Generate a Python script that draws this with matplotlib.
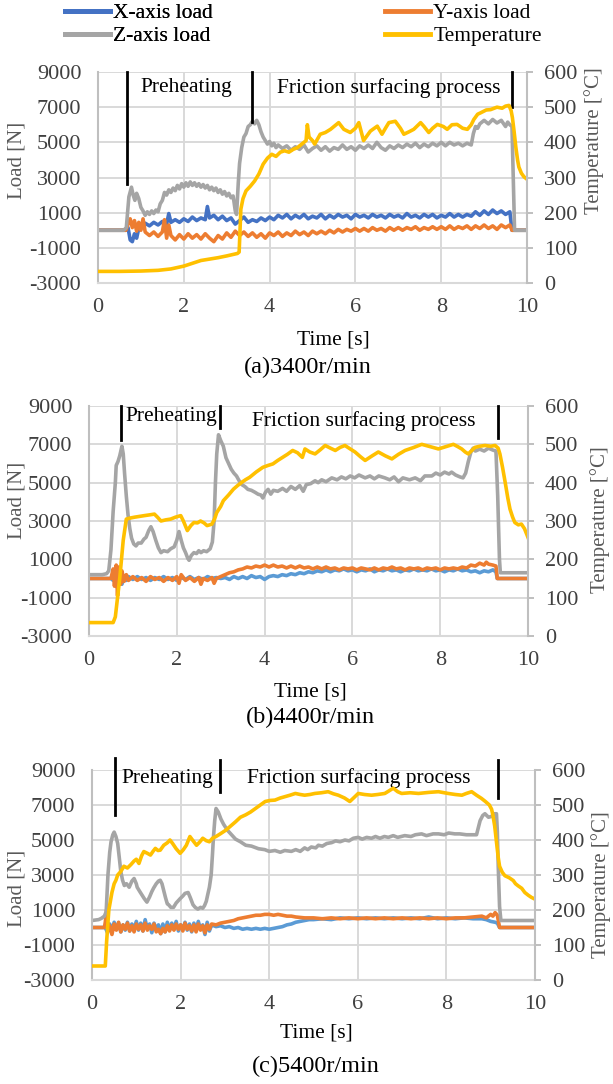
import matplotlib.pyplot as plt
from matplotlib.lines import Line2D

plt.rcParams['font.family'] = ['Liberation Serif', 'DejaVu Serif']
plt.rcParams['axes.unicode_minus'] = False

W, H = 613, 1084

# ---------------- (a) 3400 r/min ----------------
a_x = [(0, 0), (0.65, 0), (0.7, 150), (0.75, -550), (0.8, -650), (0.85, -200), (0.9, -450), (0.95, 100),
       (1.0, 350), (1.05, 150), (1.1, 400), (1.2, 250), (1.3, 450), (1.4, 300), (1.5, 500), (1.6, 350),
       (1.65, 950), (1.7, 450), (1.8, 600), (1.9, 450), (2.0, 650), (2.1, 500), (2.2, 750), (2.3, 550),
       (2.4, 700), (2.5, 600), (2.55, 1350), (2.6, 700), (2.7, 850), (2.8, 600), (2.9, 800), (3.0, 550),
       (3.1, 700), (3.2, 350), (3.3, 550), (3.4, 750), (3.5, 450), (3.6, 600), (3.7, 500), (3.8, 700),
       (3.9, 550), (4.0, 750), (4.1, 600), (4.2, 850), (4.3, 700), (4.4, 900), (4.5, 650), (4.6, 850),
       (4.7, 700), (4.8, 900), (4.9, 650), (5.0, 800), (5.1, 700), (5.2, 900), (5.3, 650), (5.4, 850),
       (5.5, 700), (5.6, 900), (5.7, 750), (5.8, 850), (5.9, 650), (6.0, 900), (6.1, 750), (6.2, 850),
       (6.3, 700), (6.4, 900), (6.5, 750), (6.6, 850), (6.7, 700), (6.8, 900), (6.9, 750), (7.0, 850),
       (7.1, 700), (7.2, 950), (7.3, 750), (7.4, 850), (7.5, 700), (7.6, 900), (7.7, 750), (7.8, 900),
       (7.9, 700), (8.0, 850), (8.1, 750), (8.2, 950), (8.3, 750), (8.4, 900), (8.5, 750), (8.6, 900),
       (8.7, 800), (8.8, 1050), (8.9, 850), (9.0, 1100), (9.1, 900), (9.2, 1150), (9.3, 950), (9.4, 1100),
       (9.5, 900), (9.6, 1050), (9.65, 0), (10, 0)]
a_y = [(0, 0), (0.65, 0), (0.7, 350), (0.75, 650), (0.8, 150), (0.85, 550), (0.9, -50), (0.95, 450),
       (1.0, 0), (1.05, 650), (1.1, -100), (1.2, -300), (1.3, -100), (1.4, -350), (1.5, -100), (1.55, 600),
       (1.6, -450), (1.65, 300), (1.7, -300), (1.8, -550), (1.9, -250), (2.0, -500), (2.1, -200),
       (2.2, -450), (2.3, -250), (2.4, -500), (2.5, -200), (2.6, -450), (2.7, -650), (2.8, -300),
       (2.9, -500), (3.0, -150), (3.1, -400), (3.2, -50), (3.3, -300), (3.4, -100), (3.5, -350),
       (3.6, -150), (3.7, -400), (3.8, -200), (3.9, -450), (4.0, -150), (4.1, -300), (4.2, -100),
       (4.3, -350), (4.4, -150), (4.5, -300), (4.6, -50), (4.7, -250), (4.8, -100), (4.9, -300),
       (5.0, -50), (5.1, -200), (5.2, -50), (5.3, -200), (5.4, 0), (5.5, -150), (5.6, 50), (5.7, -100),
       (5.8, 50), (5.9, -50), (6.0, 100), (6.1, -50), (6.2, 100), (6.3, -50), (6.4, 150), (6.5, 0),
       (6.6, 100), (6.7, -50), (6.8, 150), (6.9, 0), (7.0, 150), (7.1, 0), (7.2, 150), (7.3, 50),
       (7.4, 200), (7.5, 0), (7.6, 150), (7.7, 50), (7.8, 200), (7.9, 50), (8.0, 200), (8.1, 50),
       (8.2, 250), (8.3, 50), (8.4, 200), (8.5, 100), (8.6, 250), (8.7, 50), (8.8, 250), (8.9, 100),
       (9.0, 300), (9.1, 100), (9.2, 250), (9.3, 50), (9.4, 300), (9.5, 150), (9.6, 300), (9.65, 0), (10, 0)]
a_z = [(0, 0), (0.6, 0), (0.66, 150), (0.72, 1900), (0.78, 2450), (0.82, 2000), (0.86, 1700), (0.9, 2100),
       (0.95, 1800), (1.0, 1300), (1.05, 1100), (1.1, 850), (1.15, 1050), (1.2, 900), (1.25, 1100),
       (1.3, 950), (1.35, 1150), (1.4, 1050), (1.45, 1500), (1.5, 1700), (1.55, 2150), (1.6, 2000),
       (1.65, 2300), (1.7, 2150), (1.75, 2400), (1.8, 2250), (1.85, 2550), (1.9, 2350), (1.95, 2650),
       (2.0, 2450), (2.05, 2700), (2.1, 2500), (2.15, 2750), (2.2, 2550), (2.25, 2700), (2.3, 2500),
       (2.35, 2650), (2.4, 2450), (2.45, 2600), (2.5, 2400), (2.55, 2550), (2.6, 2300), (2.65, 2450),
       (2.7, 2250), (2.75, 2400), (2.8, 2150), (2.85, 2300), (2.9, 2050), (2.95, 2200), (3.0, 1950),
       (3.05, 2100), (3.1, 1850), (3.15, 1950), (3.2, 1100), (3.23, 900), (3.27, 2700), (3.3, 3800),
       (3.35, 4700), (3.4, 5300), (3.45, 5500), (3.5, 5900), (3.55, 6000), (3.6, 6200), (3.65, 6050),
       (3.7, 6250), (3.75, 6000), (3.8, 5600), (3.85, 5300), (3.9, 5100), (3.95, 4900), (4.0, 5050),
       (4.05, 4800), (4.1, 4950), (4.15, 4700), (4.2, 4850), (4.3, 4650), (4.4, 4800), (4.5, 4550),
       (4.6, 4750), (4.7, 4600), (4.8, 4850), (4.9, 4450), (5.0, 4650), (5.1, 4800), (5.2, 4550),
       (5.3, 4750), (5.4, 4500), (5.5, 4700), (5.6, 4600), (5.7, 4850), (5.8, 4600), (5.9, 4750),
       (6.0, 4550), (6.1, 4800), (6.2, 4650), (6.3, 4850), (6.4, 4650), (6.5, 5000), (6.6, 4700),
       (6.7, 4550), (6.8, 4800), (6.9, 4650), (7.0, 4850), (7.1, 4700), (7.2, 4900), (7.3, 4750),
       (7.4, 4950), (7.5, 4700), (7.6, 4900), (7.7, 4750), (7.8, 4950), (7.9, 4800), (8.0, 5000),
       (8.1, 4800), (8.2, 5000), (8.3, 4850), (8.4, 4950), (8.5, 4800), (8.6, 4950), (8.7, 4850),
       (8.75, 5500), (8.8, 5900), (8.85, 5800), (8.9, 6050), (9.0, 6250), (9.1, 6050), (9.2, 6300),
       (9.3, 6100), (9.4, 6250), (9.5, 5900), (9.55, 6150), (9.6, 6000), (9.65, 5900), (9.68, 3000),
       (9.71, 0), (10, 0)]
a_temp = [(0, 33), (0.5, 33), (1.0, 34), (1.4, 36), (1.7, 40), (2.0, 48), (2.2, 56), (2.4, 64), (2.6, 68),
          (2.8, 72), (3.0, 77), (3.25, 84), (3.29, 88), (3.33, 210), (3.38, 240), (3.45, 262), (3.55, 275),
          (3.65, 290), (3.75, 310), (3.85, 338), (3.95, 355), (4.05, 366), (4.15, 360), (4.25, 372),
          (4.35, 376), (4.45, 372), (4.55, 380), (4.65, 385), (4.75, 395), (4.85, 405), (4.88, 450),
          (4.92, 415), (5.0, 405), (5.05, 395), (5.18, 423), (5.3, 428), (5.42, 437), (5.5, 445),
          (5.61, 456), (5.73, 437), (5.88, 428), (6.0, 440), (6.08, 456), (6.19, 405), (6.35, 432),
          (6.51, 446), (6.62, 423), (6.7, 440), (6.78, 456), (6.93, 460), (7.05, 440), (7.13, 423),
          (7.25, 430), (7.36, 437), (7.52, 456), (7.6, 445), (7.71, 428), (7.8, 440), (7.91, 451),
          (8.05, 445), (8.14, 437), (8.25, 450), (8.37, 451), (8.5, 440), (8.61, 437), (8.7, 450),
          (8.76, 465), (8.85, 480), (8.92, 484), (9.05, 492), (9.15, 493), (9.3, 500), (9.42, 497),
          (9.5, 503), (9.58, 505), (9.63, 490), (9.66, 470), (9.7, 430), (9.74, 386), (9.78, 350),
          (9.81, 330), (9.87, 312), (9.93, 302), (10, 295)]

# ---------------- (b) 4400 r/min ----------------
b_x = [(0, 0), (0.5, 0), (0.55, -100), (0.6, 300), (0.65, -500), (0.7, 200), (0.75, -300), (0.8, 150),
       (0.85, -100), (0.9, 100), (1.0, -50), (1.1, 100), (1.2, -50), (1.3, 50), (1.4, -100), (1.5, 50),
       (1.6, -50), (1.7, 100), (1.8, -50), (1.9, 50), (2.0, -100), (2.1, 50), (2.2, -50), (2.3, 100),
       (2.4, -50), (2.5, 50), (2.6, -50), (2.7, 100), (2.8, 0), (2.9, 50), (3.0, 0), (3.1, 50), (3.2, -50),
       (3.3, 100), (3.4, 0), (3.5, 100), (3.6, 0), (3.7, 150), (3.8, 50), (3.9, 100), (4.0, -50),
       (4.1, 100), (4.2, 150), (4.3, 100), (4.4, 200), (4.5, 150), (4.6, 250), (4.7, 200), (4.8, 300),
       (4.9, 250), (5.0, 350), (5.1, 300), (5.2, 400), (5.3, 350), (5.4, 450), (5.5, 350), (5.6, 450),
       (5.7, 400), (5.8, 500), (5.9, 400), (6.0, 450), (6.1, 350), (6.2, 450), (6.3, 400), (6.4, 500),
       (6.5, 350), (6.6, 450), (6.7, 400), (6.8, 500), (6.9, 400), (7.0, 450), (7.1, 350), (7.2, 450),
       (7.3, 400), (7.4, 500), (7.5, 400), (7.6, 450), (7.7, 400), (7.8, 500), (7.9, 400), (8.0, 450),
       (8.1, 350), (8.2, 450), (8.3, 400), (8.4, 500), (8.5, 400), (8.6, 450), (8.7, 350), (8.8, 400),
       (8.9, 300), (9.0, 400), (9.1, 350), (9.2, 450), (9.27, 350), (9.3, 0), (10, 0)]
b_y = [(0, 0), (0.5, 0), (0.55, 500), (0.58, -400), (0.62, 700), (0.65, -900), (0.68, 600), (0.72, -300),
       (0.75, 400), (0.8, -150), (0.85, 200), (0.9, -100), (1.0, 100), (1.1, -100), (1.2, 50), (1.3, -150),
       (1.4, 100), (1.5, -50), (1.6, 50), (1.7, -150), (1.8, 50), (1.9, -100), (2.0, 100), (2.05, -250),
       (2.1, 200), (2.2, -100), (2.3, 50), (2.4, -150), (2.5, 50), (2.55, -300), (2.6, 0), (2.7, -100),
       (2.8, 50), (2.85, -250), (2.9, 0), (3.0, 100), (3.1, 200), (3.2, 300), (3.3, 350), (3.4, 450),
       (3.5, 500), (3.6, 600), (3.7, 550), (3.8, 650), (3.9, 600), (4.0, 700), (4.1, 600), (4.2, 700),
       (4.3, 600), (4.4, 650), (4.5, 550), (4.6, 650), (4.7, 550), (4.8, 650), (4.9, 550), (5.0, 600),
       (5.1, 500), (5.2, 600), (5.3, 500), (5.4, 600), (5.5, 500), (5.6, 550), (5.7, 450), (5.8, 550),
       (5.9, 500), (6.0, 550), (6.1, 450), (6.2, 550), (6.3, 500), (6.4, 450), (6.5, 550), (6.6, 450),
       (6.7, 550), (6.8, 500), (6.9, 600), (7.0, 500), (7.1, 550), (7.2, 450), (7.3, 550), (7.4, 500),
       (7.5, 550), (7.6, 450), (7.7, 550), (7.8, 500), (7.9, 550), (8.0, 450), (8.1, 550), (8.2, 500),
       (8.3, 550), (8.4, 500), (8.5, 600), (8.6, 550), (8.7, 700), (8.8, 650), (8.9, 800), (9.0, 700),
       (9.05, 850), (9.1, 750), (9.2, 700), (9.27, 650), (9.3, 0), (10, 0)]
b_z = [(0, 200), (0.3, 200), (0.4, 250), (0.45, 400), (0.5, 1500), (0.55, 3500), (0.6, 5000), (0.62, 5900),
       (0.66, 6100), (0.7, 6400), (0.75, 6900), (0.78, 6500), (0.81, 5500), (0.85, 4300), (0.89, 3300),
       (0.93, 2600), (0.97, 2100), (1.02, 1800), (1.07, 1700), (1.12, 1850), (1.19, 1850), (1.25, 2050),
       (1.3, 2150), (1.36, 2500), (1.41, 2700), (1.46, 2450), (1.52, 2000), (1.58, 1600), (1.64, 1350),
       (1.7, 1450), (1.79, 1400), (1.86, 1550), (1.94, 1650), (2.0, 2000), (2.05, 2450), (2.1, 2000),
       (2.15, 1600), (2.2, 1350), (2.25, 1050), (2.28, 950), (2.33, 1200), (2.39, 1350), (2.45, 1300),
       (2.5, 1450), (2.55, 1350), (2.61, 1450), (2.68, 1400), (2.76, 1550), (2.81, 1900), (2.85, 3000),
       (2.88, 5000), (2.91, 6500), (2.95, 7500), (3.0, 7200), (3.06, 6900), (3.12, 6300), (3.18, 6000),
       (3.24, 5700), (3.3, 5500), (3.36, 5350), (3.42, 5100), (3.48, 4900), (3.55, 4800), (3.62, 4650),
       (3.7, 4600), (3.78, 4500), (3.85, 4400), (3.92, 4350), (3.96, 4200), (4.02, 4500), (4.08, 4650),
       (4.14, 4400), (4.2, 4600), (4.3, 4550), (4.41, 4700), (4.5, 4550), (4.6, 4800), (4.7, 4650),
       (4.8, 4850), (4.88, 4550), (4.95, 4900), (5.05, 4950), (5.15, 5100), (5.22, 5000), (5.3, 5150),
       (5.4, 5050), (5.53, 5250), (5.65, 5150), (5.75, 5300), (5.85, 5200), (5.95, 5350), (6.05, 5250),
       (6.15, 5400), (6.29, 5250), (6.4, 5350), (6.5, 5200), (6.6, 5350), (6.74, 5250), (6.85, 5150),
       (6.95, 5300), (7.05, 5050), (7.15, 5250), (7.3, 5150), (7.43, 5250), (7.55, 5100), (7.65, 5350),
       (7.81, 5350), (7.9, 5500), (8.0, 5400), (8.1, 5550), (8.2, 5450), (8.26, 5550), (8.35, 5400),
       (8.45, 5300), (8.52, 5250), (8.58, 5500), (8.64, 6100), (8.7, 6600), (8.75, 6800), (8.8, 6650),
       (8.9, 6750), (9.0, 6650), (9.1, 6800), (9.2, 6700), (9.27, 6650), (9.31, 4300), (9.35, 1000),
       (9.37, 300), (10, 300)]
b_temp = [(0, 35), (0.55, 35), (0.6, 50), (0.7, 150), (0.78, 250), (0.85, 305), (0.95, 308), (1.04, 310),
          (1.15, 312), (1.26, 314), (1.38, 316), (1.49, 318), (1.56, 310), (1.64, 300), (1.75, 303),
          (1.86, 305), (1.97, 310), (2.09, 314), (2.15, 300), (2.24, 275), (2.32, 288), (2.39, 296),
          (2.47, 295), (2.54, 300), (2.62, 295), (2.69, 288), (2.75, 290), (2.8, 292), (2.86, 305),
          (2.91, 322), (3.0, 338), (3.06, 353), (3.18, 368), (3.29, 383), (3.38, 392), (3.48, 401),
          (3.57, 408), (3.66, 414), (3.81, 428), (3.96, 440), (4.08, 445), (4.19, 449), (4.3, 458),
          (4.41, 466), (4.52, 474), (4.64, 484), (4.75, 478), (4.86, 466), (4.92, 488), (5.03, 480),
          (5.15, 475), (5.27, 486), (5.38, 497), (5.5, 490), (5.61, 484), (5.72, 492), (5.83, 497),
          (5.95, 488), (6.06, 480), (6.18, 468), (6.29, 458), (6.45, 470), (6.59, 480), (6.75, 470),
          (6.9, 462), (7.05, 474), (7.2, 484), (7.4, 492), (7.58, 500), (7.77, 494), (7.96, 488),
          (8.13, 494), (8.3, 500), (8.4, 494), (8.49, 488), (8.57, 480), (8.64, 475), (8.72, 484),
          (8.79, 492), (8.9, 495), (9.02, 497), (9.15, 495), (9.25, 497), (9.32, 490), (9.36, 475),
          (9.42, 440), (9.48, 401), (9.54, 360), (9.59, 331), (9.65, 310), (9.7, 296), (9.78, 290),
          (9.85, 292), (9.92, 280), (10, 257)]

# ---------------- (c) 5400 r/min ----------------
c_x = [(0, 0), (0.3, 0), (0.35, -300), (0.4, 200), (0.45, -200), (0.5, 300), (0.55, -100), (0.6, 250),
       (0.65, -250), (0.7, 150), (0.75, -150), (0.8, 300), (0.85, -200), (0.9, 200), (0.95, -100),
       (1.0, 350), (1.05, -150), (1.1, 250), (1.15, -200), (1.2, 450), (1.25, -100), (1.3, 200),
       (1.35, -300), (1.4, 250), (1.45, -100), (1.5, 150), (1.55, -350), (1.6, 200), (1.65, -250),
       (1.7, 300), (1.75, -150), (1.8, 250), (1.85, -100), (1.9, 350), (1.95, -200), (2.0, 150),
       (2.05, -100), (2.1, 300), (2.15, -150), (2.2, 200), (2.25, -250), (2.3, 250), (2.35, -150),
       (2.4, 350), (2.45, -100), (2.5, 150), (2.55, -400), (2.6, 300), (2.65, -200), (2.7, 150),
       (2.75, 100), (2.8, 50), (2.9, 100), (3.0, 0), (3.1, 50), (3.2, -50), (3.3, 0), (3.4, -100),
       (3.5, -50), (3.6, -100), (3.7, -50), (3.8, -100), (3.9, -50), (4.0, -100), (4.1, -50), (4.2, 0),
       (4.3, 50), (4.4, 150), (4.5, 200), (4.6, 300), (4.7, 350), (4.8, 400), (4.9, 450), (5.0, 450),
       (5.2, 500), (5.4, 450), (5.6, 550), (5.8, 500), (6.0, 550), (6.2, 500), (6.4, 550), (6.6, 500),
       (6.8, 550), (7.0, 500), (7.2, 550), (7.4, 500), (7.6, 600), (7.8, 500), (8.0, 550), (8.2, 500),
       (8.4, 550), (8.6, 500), (8.8, 500), (8.9, 450), (9.0, 350), (9.1, 300), (9.15, 250), (9.2, 0),
       (10, 0)]
c_y = [(0, 0), (0.28, 0), (0.3, 300), (0.33, 1000), (0.36, -200), (0.4, 100), (0.45, -400), (0.5, 200),
       (0.55, -150), (0.6, 300), (0.65, -250), (0.7, 150), (0.75, -100), (0.8, 250), (0.85, -200),
       (0.9, 100), (0.95, -250), (1.0, 200), (1.05, -100), (1.1, 150), (1.15, -200), (1.2, 250),
       (1.25, -150), (1.3, 100), (1.35, -100), (1.4, 200), (1.45, -250), (1.5, -100), (1.55, -350),
       (1.6, -50), (1.65, -250), (1.7, 100), (1.75, -200), (1.8, 150), (1.85, -150), (1.9, 200),
       (1.95, -100), (2.0, 150), (2.05, -200), (2.1, 250), (2.15, -100), (2.2, 100), (2.25, -200),
       (2.3, 150), (2.35, -250), (2.4, 200), (2.45, -150), (2.5, 100), (2.55, -300), (2.6, 150),
       (2.65, -100), (2.7, 200), (2.8, 150), (2.9, 250), (3.0, 300), (3.1, 350), (3.2, 400), (3.3, 500),
       (3.4, 550), (3.5, 600), (3.6, 650), (3.7, 700), (3.8, 700), (3.9, 750), (4.0, 750), (4.1, 700),
       (4.2, 750), (4.3, 700), (4.4, 650), (4.5, 650), (4.6, 600), (4.8, 550), (5.0, 550), (5.2, 500),
       (5.4, 550), (5.6, 500), (5.8, 550), (6.0, 500), (6.2, 550), (6.4, 500), (6.6, 550), (6.8, 500),
       (7.0, 550), (7.2, 500), (7.4, 550), (7.6, 500), (7.8, 550), (8.0, 500), (8.2, 550), (8.4, 550),
       (8.6, 600), (8.8, 650), (8.9, 550), (9.0, 750), (9.05, 650), (9.1, 850), (9.15, 700), (9.2, 0),
       (10, 0)]
c_z = [(0, 400), (0.15, 450), (0.21, 520), (0.28, 650), (0.32, 900), (0.36, 3000), (0.4, 4300), (0.43, 4900),
       (0.47, 5300), (0.5, 5450), (0.54, 5200), (0.58, 4800), (0.62, 3900), (0.65, 3200), (0.69, 2700),
       (0.73, 2400), (0.78, 2500), (0.84, 2300), (0.9, 2650), (0.95, 2800), (1.0, 2500), (1.02, 2300),
       (1.08, 2050), (1.13, 1850), (1.18, 1650), (1.24, 1450), (1.3, 1750), (1.35, 2050), (1.39, 2250),
       (1.45, 2500), (1.5, 2650), (1.54, 2700), (1.58, 2500), (1.61, 2200), (1.66, 1700), (1.7, 1350),
       (1.73, 1300), (1.78, 1150), (1.84, 1150), (1.9, 1400), (1.99, 1650), (2.05, 1800), (2.1, 1950),
       (2.17, 2000), (2.22, 1700), (2.28, 1300), (2.33, 1150), (2.39, 1050), (2.45, 1150), (2.5, 1100),
       (2.54, 1250), (2.58, 1500), (2.61, 1850), (2.65, 2300), (2.69, 3000), (2.72, 4200), (2.74, 5100),
       (2.77, 6100), (2.8, 6800), (2.85, 6600), (2.91, 6200), (2.97, 5900), (3.06, 5550), (3.15, 5300),
       (3.24, 5050), (3.35, 4900), (3.47, 4700), (3.6, 4650), (3.76, 4500), (3.9, 4450), (4.0, 4350),
       (4.13, 4400), (4.25, 4300), (4.35, 4400), (4.5, 4350), (4.6, 4450), (4.7, 4350), (4.8, 4550),
       (4.87, 4450), (4.95, 4600), (5.05, 4550), (5.11, 4700), (5.2, 4650), (5.3, 4800), (5.41, 4850),
       (5.5, 4950), (5.6, 4900), (5.71, 5000), (5.8, 4950), (5.9, 5100), (6.01, 5150), (6.1, 5050),
       (6.2, 5150), (6.31, 5100), (6.4, 5200), (6.5, 5100), (6.6, 5200), (6.69, 5150), (6.8, 5250),
       (6.9, 5150), (7.06, 5250), (7.2, 5200), (7.3, 5300), (7.44, 5350), (7.55, 5250), (7.7, 5350),
       (7.82, 5350), (7.95, 5300), (8.05, 5400), (8.19, 5350), (8.3, 5350), (8.45, 5300), (8.6, 5300),
       (8.68, 5300), (8.72, 5700), (8.76, 6100), (8.82, 6400), (8.87, 6500), (8.95, 6300), (9.02, 6350),
       (9.08, 6500), (9.13, 6500), (9.15, 5500), (9.17, 3500), (9.2, 1200), (9.23, 400), (10, 400)]
c_temp = [(0, 40), (0.3, 40), (0.33, 110), (0.38, 200), (0.45, 250), (0.5, 275), (0.54, 285), (0.58, 300),
          (0.65, 310), (0.72, 325), (0.8, 320), (0.88, 330), (0.95, 340), (1.0, 345), (1.06, 333),
          (1.12, 355), (1.17, 367), (1.25, 362), (1.32, 357), (1.38, 368), (1.43, 376), (1.49, 370),
          (1.54, 371), (1.62, 385), (1.7, 392), (1.76, 400), (1.82, 390), (1.9, 375), (1.99, 362),
          (2.06, 372), (2.13, 385), (2.21, 410), (2.28, 398), (2.36, 385), (2.43, 394), (2.5, 405),
          (2.58, 398), (2.65, 395), (2.72, 405), (2.8, 410), (2.9, 418), (3.02, 428), (3.13, 440),
          (3.24, 452), (3.35, 465), (3.47, 472), (3.58, 480), (3.69, 490), (3.8, 500), (3.91, 510),
          (4.02, 513), (4.13, 514), (4.25, 520), (4.36, 524), (4.47, 528), (4.59, 533), (4.7, 530),
          (4.8, 528), (4.92, 530), (5.03, 533), (5.18, 535), (5.33, 538), (5.45, 532), (5.56, 528),
          (5.7, 520), (5.82, 510), (5.92, 522), (6.01, 533), (6.15, 530), (6.31, 528), (6.45, 530),
          (6.61, 533), (6.7, 540), (6.8, 548), (6.9, 538), (6.99, 533), (7.18, 535), (7.37, 533),
          (7.6, 536), (7.82, 538), (8.04, 533), (8.2, 530), (8.35, 528), (8.45, 533), (8.57, 538),
          (8.68, 528), (8.79, 519), (8.88, 510), (8.97, 500), (9.02, 488), (9.05, 471), (9.09, 440),
          (9.13, 395), (9.17, 350), (9.2, 325), (9.26, 308), (9.32, 298), (9.42, 292), (9.51, 284),
          (9.56, 275), (9.62, 269), (9.7, 262), (9.77, 250), (9.85, 242), (9.92, 236), (10, 231)]

# stage marker lines: (time, top load, bottom load)
a_marks = [(0.67, 9000, 2630), (3.59, 9000, 6170), (9.64, 9000, 7030)]
b_marks = [(0.74, 9000, 7230), (2.98, 9000, 7870), (9.31, 9000, 7330)]
c_marks = [(0.53, 9700, 6430), (2.89, 9600, 7740), (9.16, 9600, 7400)]
# stage labels: (time, load)
a_stage = [(2.05, 8110), (6.77, 8110)]
b_stage = [(1.88, 8440), (6.25, 8220)]
c_stage = [(1.69, 8540), (6.02, 8540)]
stage_names = ['Preheating', 'Friction surfacing process']

load_ticks = [-3000, -1000, 1000, 3000, 5000, 7000, 9000]
temp_ticks = [0, 100, 200, 300, 400, 500, 600]
time_ticks = [0, 2, 4, 6, 8, 10]

captions = ['(a)3400r/min', '(b)4400r/min', '(c)5400r/min']

C_X = '#4472C4'
C_X2 = '#5B9BD5'
C_Y = '#ED7D31'
C_Z = '#A5A5A5'
C_T = '#FFC000'
GRID = '#D9D9D9'
AXC = '#BFBFBF'


def fx(px):
    return px / W


def fy(py):
    return 1 - py / H


def panel(fig, box, xs, ys, zs, ts, xcol, marks, stage, cap, cap_xy, time_xy, load_xy, temp_xy):
    left, top, right, bottom = box
    ax = fig.add_axes([fx(left), fy(bottom), fx(right - left), (bottom - top) / H])
    ax.set_xlim(0, 10)
    ax.set_ylim(-3000, 9000)
    ax.set_xticks(time_ticks)
    ax.set_yticks(load_ticks)
    ax.grid(True, color=GRID, lw=1.4)
    ax.set_axisbelow(True)
    for s in ['top', 'right']:
        ax.spines[s].set_visible(False)
    ax.spines['left'].set_color(AXC)
    ax.spines['left'].set_linewidth(1.5)
    ax.spines['bottom'].set_color(GRID)
    ax.spines['bottom'].set_linewidth(1.5)
    ax.tick_params(axis='both', length=0, labelsize=16, labelcolor='#404040')
    ax.tick_params(axis='x', pad=11)
    ax.tick_params(axis='y', pad=12)

    for data, col in [(xs, xcol), (ys, C_Y), (zs, C_Z)]:
        t, v = zip(*data)
        ax.plot(t, v, color=col, lw=2.6, solid_joinstyle='round')

    for t, y0, y1 in marks:
        ax.plot([t, t], [y0, y1], color='black', lw=2, clip_on=False, zorder=6)
    for (t, y), name in zip(stage, stage_names):
        ax.text(t, y, name, ha='center', va='center', fontsize=15.5, color='black', zorder=7)

    ax2 = ax.twinx()
    ax2.set_ylim(0, 600)
    ax2.set_yticks(temp_ticks)
    for s in ['top', 'left', 'bottom']:
        ax2.spines[s].set_visible(False)
    ax2.spines['right'].set_color(AXC)
    ax2.spines['right'].set_linewidth(1.5)
    ax2.tick_params(axis='y', length=4, width=1.4, color=AXC, labelsize=16, labelcolor='#404040', pad=8)
    t, v = zip(*ts)
    ax2.plot(t, v, color=C_T, lw=2.6, solid_joinstyle='round')

    fig.text(fx(time_xy[0]), fy(time_xy[1]), 'Time [s]', ha='center', va='center', fontsize=15.5)
    fig.text(fx(cap_xy[0]), fy(cap_xy[1]), cap, ha='center', va='center', fontsize=17.5)
    fig.text(fx(load_xy[0]), fy(load_xy[1]), 'Load [N]', ha='center', va='center', rotation=90,
             fontsize=15, color='#595959')
    fig.text(fx(temp_xy[0]), fy(temp_xy[1]), 'Temperature [°C]', ha='center', va='center', rotation=90,
             fontsize=15, color='#595959')


fig = plt.figure(figsize=(W / 100, H / 100), dpi=100)

panel(fig, (98, 72, 527, 283), a_x, a_y, a_z, a_temp, C_X, a_marks, a_stage, captions[0],
      (308, 367), (333, 340), (17, 160), (594, 141))
panel(fig, (89, 406, 528, 636), b_x, b_y, b_z, b_temp, C_X2, b_marks, b_stage, captions[1],
      (310, 717), (310, 692), (17, 500), (600, 520))
panel(fig, (92, 770, 535, 980), c_x, c_y, c_z, c_temp, C_X2, c_marks, c_stage, captions[2],
      (316, 1066), (316, 1033), (17, 888), (601, 885))

# legend: two columns placed separately
h_left = [Line2D([], [], color=C_X, lw=3.5), Line2D([], [], color=C_Z, lw=3.5)]
h_right = [Line2D([], [], color=C_Y, lw=3.5), Line2D([], [], color=C_T, lw=3.5)]
common = dict(loc='upper left', frameon=False, fontsize=15.5, handlelength=2.1, handletextpad=0.15,
              labelspacing=0.15, borderpad=0, borderaxespad=0)
leg1 = fig.legend(h_left, ['X-axis load', 'Z-axis load'], bbox_to_anchor=(fx(65), fy(3)), **common)
fig.add_artist(leg1)
fig.legend(h_right, ['Y-axis load', 'Temperature'], bbox_to_anchor=(fx(385), fy(3)), **common)

fig.savefig('out.png', dpi=100)
